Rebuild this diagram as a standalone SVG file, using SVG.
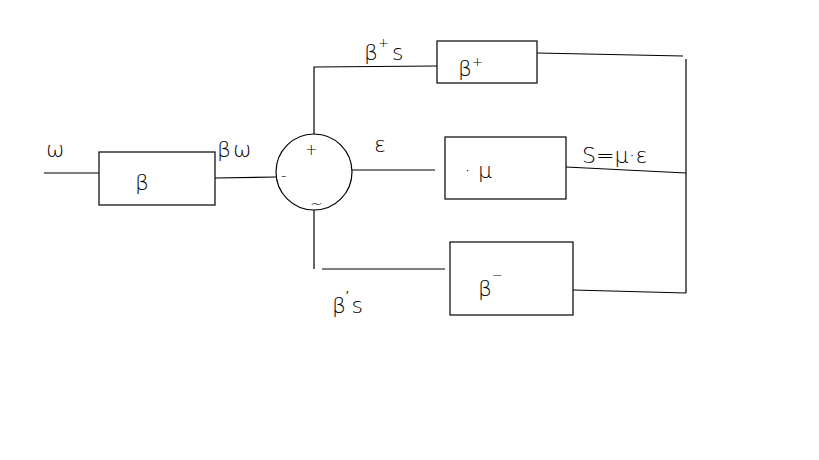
<svg xmlns="http://www.w3.org/2000/svg" width="819" height="460" viewBox="0 0 819 460">
<style>
.b{fill:none;stroke:#000;stroke-width:1.2}
.w{fill:none;stroke:#000;stroke-width:1.2}
text{font-family:"DejaVu Sans","Liberation Sans",sans-serif;fill:#000;font-weight:200}
.lbl{font-size:22px}
.sup{font-size:13px}
</style>
<rect width="819" height="460" fill="#fff"/>
<g id="connectors">
<polyline class="w" points="44,173 99,173"/>
<polyline class="w" points="215,178 276,177"/>
<polyline class="w" points="314,134 314,67 437,66"/>
<polyline class="w" points="352,170 435,170"/>
<polyline class="w" points="314,210 314,269"/>
<polyline class="w" points="322,269 445,269"/>
<polyline class="w" points="537,53 683,56"/>
<polyline class="w" points="566,167 686,173"/>
<polyline class="w" points="573,290 686,293"/>
<polyline class="w" points="686,59 686,293"/>
</g>
<g id="input-label"><text class="lbl" x="46" y="157">ω</text></g>
<g id="node-beta"><rect class="b" x="99" y="152" width="116" height="53"/><text class="lbl" x="135" y="190" font-size="26">β</text></g>
<g id="label-betaomega"><text class="lbl" x="217" y="157" letter-spacing="2">βω</text></g>
<g id="node-sum"><circle class="b" cx="314" cy="172" r="38"/>
<text x="305" y="155" font-size="15">+</text>
<text x="281" y="181" font-size="15">-</text>
<text x="310" y="209" font-size="15">~</text></g>
<g id="label-eps"><text class="lbl" x="374" y="152">ε</text></g>
<g id="label-betaplus-s"><text class="lbl" x="364" y="60">β<tspan class="sup" dy="-13">+</tspan><tspan dy="13" dx="3">s</tspan></text></g>
<g id="node-betaplus"><rect class="b" x="437" y="41" width="100" height="42"/><text class="lbl" x="458" y="76">β<tspan class="sup" dy="-10">+</tspan></text></g>
<g id="node-mu"><rect class="b" x="445" y="137" width="121" height="62"/><text class="lbl" x="464" y="178">· μ</text></g>
<g id="label-s"><text class="lbl" x="582" y="163">S=μ·ε</text></g>
<g id="node-betaminus"><rect class="b" x="450" y="242" width="123" height="73"/><text class="lbl" x="478" y="296" font-size="26">β<tspan class="sup" dy="-16">−</tspan></text></g>
<g id="label-betaminus-s"><text class="lbl" x="332" y="313">β<tspan class="sup" dy="-13">′</tspan><tspan dy="13" dx="3">s</tspan></text></g>
</svg>
